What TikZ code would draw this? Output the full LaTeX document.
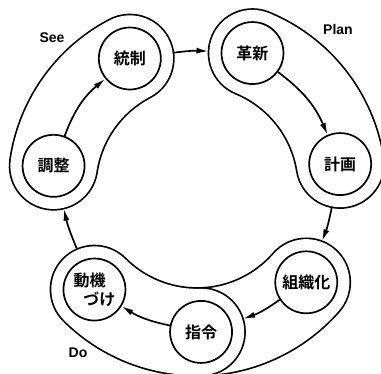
\documentclass[tikz,border=0pt]{standalone}
\usepackage{fontspec}
\setmainfont{Liberation Sans}
\newfontfamily\jpfont{Noto Sans CJK JP}[BoldFont={* Bold}]
\usetikzlibrary{arrows.meta}

\tikzset{
  stage/.style={draw, circle, line width=1.7pt, minimum size=62pt, inner sep=0pt,
    font=\jpfont\bfseries\fontsize{16}{19}\selectfont},
  bandend/.style={circle, minimum size=88pt, inner sep=0pt, outer sep=0pt},
  flow/.style={-{Latex[length=12pt,width=6pt]}, line width=1.7pt},
  phase/.style={font=\bfseries\fontsize{14}{16}\selectfont},
}
% band along the ring: start angle, end angle
\newcommand{\drawband}[2]{%
  \draw[line width=89.7pt, line cap=round] (#1:145) arc[start angle=#1, end angle=#2, radius=145];
  \draw[white, line width=86.3pt, line cap=round] (#1:145) arc[start angle=#1, end angle=#2, radius=145];
}

\begin{document}
\begin{tikzpicture}[x=1pt, y=1pt]
  \useasboundingbox (0,0) rectangle (381,374);
  \begin{scope}[shift={(197,187)}]
    % bands
    \drawband{171.6}{117.6}
    \drawband{67.5}{9.1}
    \drawband{-88.4}{-41.1}
    \drawband{-135}{-88.4}
    % stages
    \node[stage] (tosei)    at (117.6:145) {統制};
    \node[stage] (chosei)   at (171.6:145) {調整};
    \node[stage] (kakushin) at (67.5:145)  {革新};
    \node[stage] (keikaku)  at (9.1:145)   {計画};
    \node[stage] (soshiki)  at (-41.1:145) {組織化};
    \node[stage] (shirei)   at (-88.4:145) {指令};
    \node[stage, align=left] (doki) at (-135:145) {動機\\\hspace*{0.6em}づけ};
    % band ends
    \node[bandend] (tosei-o)    at (117.6:145) {};
    \node[bandend] (chosei-o)   at (171.6:145) {};
    \node[bandend] (kakushin-o) at (67.5:145)  {};
    \node[bandend] (keikaku-o)  at (9.1:145)   {};
    \node[bandend] (soshiki-o)  at (-41.1:145) {};
    \node[bandend] (shirei-o)   at (-88.4:145) {};
    \node[bandend] (doki-o)     at (-135:145)  {};
  \end{scope}
  % phases
  \node[phase] (see)  at (52,336) {See};
  \node[phase] (plan) at (338,344) {Plan};
  \node[phase] (do)   at (78,21) {Do};
  % flows
  \draw[flow] (chosei) to[bend left=15] (tosei);
  \draw[flow] (tosei-o) to[bend left=5] (kakushin-o);
  \draw[flow] (kakushin) to[bend left=15] (keikaku);
  \draw[flow] (keikaku-o) to[bend left=5] (soshiki-o);
  \draw[flow] (soshiki) to[bend left=8] (shirei-o);
  \draw[flow] (shirei) to[bend left=10] (doki);
  \draw[flow] (doki-o) to[bend left=5] (chosei-o);
\end{tikzpicture}
\end{document}
